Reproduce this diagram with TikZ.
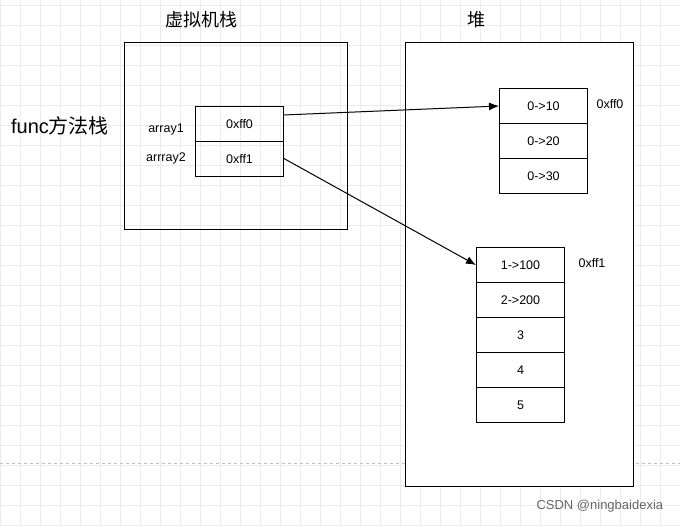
\documentclass[tikz,border=0pt]{standalone}
\usepackage{fontspec}
\usetikzlibrary{arrows.meta}
\setmainfont{Liberation Sans}
\newfontfamily\cjk{Noto Sans CJK SC}
\begin{document}
\begin{tikzpicture}[x=1pt,y=-1pt,line width=1pt,
  cell/.style={draw,minimum width=88pt,minimum height=35pt,inner sep=0pt,font=\fontsize{12.5}{14}\selectfont},
  lbl/.style={font=\fontsize{12.5}{14}\selectfont},
  ttl/.style={font=\cjk\fontsize{18}{20}\selectfont},
  arr/.style={-{Latex[length=10pt,width=8pt]},black}]
\useasboundingbox (0,0) rectangle (680,525);
\fill[white] (0,0) rectangle (680,525);
\foreach \i in {0,20,...,680} \draw[black!8,line width=0.6pt] (\i,0)--(\i,525);
\foreach \j in {5,25,...,525} \draw[black!8,line width=0.6pt] (0,\j)--(680,\j);
\draw[black!25,dashed] (0,463)--(680,463);
\node[draw,minimum width=223pt,minimum height=187pt,anchor=north west,inner sep=0pt] (vm) at (124,42) {};
\node[draw,minimum width=228pt,minimum height=444pt,anchor=north west,inner sep=0pt,fill=white] (heap) at (405,42) {};
\node[ttl] (tvm) at (201,20) {虚拟机栈};
\node[ttl] (th) at (476,20) {堆};
\node[font=\fontsize{20}{22}\selectfont] (func) at (60,126) {func{\cjk 方法栈}};
\node[cell,anchor=north west] (s1) at (195,106) {0xff0};
\node[cell,anchor=north west] (s2) at (195,141) {0xff1};
\node[lbl] (l1) at (166,129) {array1};
\node[lbl] (l2) at (166,158) {arrray2};
\node[cell,anchor=north west] (a0) at (499,88) {0->10};
\node[cell,anchor=north west] (a1) at (499,123) {0->20};
\node[cell,anchor=north west] (a2) at (499,158) {0->30};
\node[lbl] (p0) at (610,104) {0xff0};
\node[cell,anchor=north west] (b0) at (476,247) {1->100};
\node[cell,anchor=north west] (b1) at (476,282) {2->200};
\node[cell,anchor=north west] (b2) at (476,317) {3};
\node[cell,anchor=north west] (b3) at (476,352) {4};
\node[cell,anchor=north west] (b4) at (476,387) {5};
\node[lbl] (p1) at (592,263) {0xff1};
\coordinate (s1e) at (283,115);
\coordinate (s2e) at (283,158);
\draw[arr] (s1e) -- (a0.west);
\draw[arr] (s2e) -- (b0.west);
\node[font=\fontsize{13}{15}\selectfont,text=black!60,anchor=east] (wm) at (667,506) {CSDN @ningbaidexia};
\end{tikzpicture}
\end{document}
